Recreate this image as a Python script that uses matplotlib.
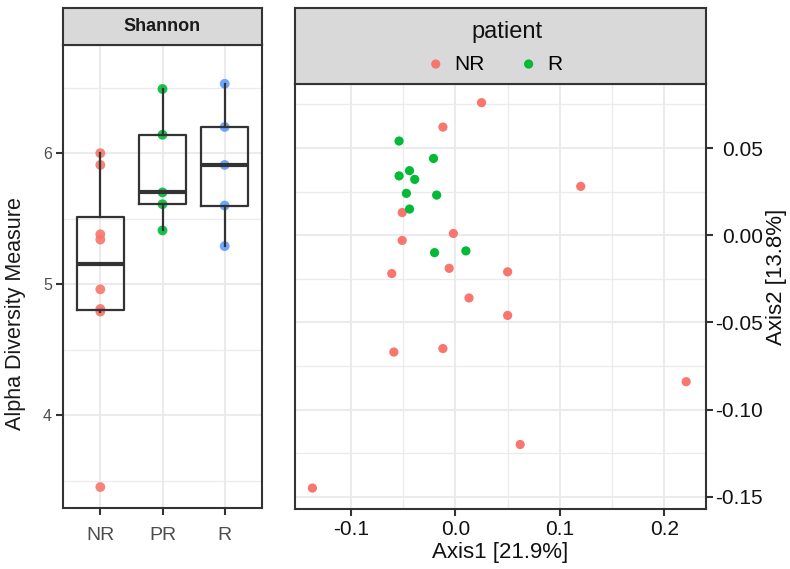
import numpy as np
import matplotlib
matplotlib.use("Agg")
import matplotlib.pyplot as plt

plt.rcParams['font.family'] = ['Liberation Sans', 'DejaVu Sans']
plt.rcParams['axes.unicode_minus'] = False

# alpha diversity (Shannon) per response group
groups = ["NR", "PR", "R"]
shannon_nr = [6.00, 5.91, 5.38, 5.34, 4.96, 4.81, 4.79, 3.45]
shannon_pr = [6.49, 6.14, 5.70, 5.61, 5.41]
shannon_r = [6.53, 6.20, 5.91, 5.60, 5.29]
group_colors = {"NR": "#F8766D", "PR": "#00BA38", "R": "#619CFF"}

# ordination coordinates by patient group
nr_axis1 = [0.025, -0.012, 0.120, -0.051, -0.002, -0.051, -0.061, -0.006,
            0.050, 0.013, 0.050, -0.059, -0.012, 0.221, 0.062, -0.137]
nr_axis2 = [0.076, 0.062, 0.028, 0.013, 0.001, -0.003, -0.022, -0.019,
            -0.021, -0.036, -0.046, -0.067, -0.065, -0.084, -0.120, -0.145]
r_axis1 = [-0.054, -0.021, -0.044, -0.054, -0.039, -0.047, -0.018, -0.044, -0.020, 0.010]
r_axis2 = [0.054, 0.044, 0.037, 0.034, 0.032, 0.024, 0.023, 0.015, -0.010, -0.009]

W, H = 790, 569
fig = plt.figure(figsize=(W / 100, H / 100), dpi=100)

GRID = "#EBEBEB"
DARK = "#333333"


def fbox(x0, y0, x1, y1):
    # pixel box (top-left origin) -> figure fraction rect
    return [x0 / W, 1 - y1 / H, (x1 - x0) / W, (y1 - y0) / H]


def strip(rect):
    s = fig.add_axes(rect)
    s.set_xticks([])
    s.set_yticks([])
    s.set_facecolor("#D9D9D9")
    for sp in s.spines.values():
        sp.set_color(DARK)
        sp.set_linewidth(1.5)
    return s


# ---------------- left panel: Shannon boxplot ----------------
ax1 = fig.add_axes(fbox(63, 45, 262, 508))
data = [shannon_nr, shannon_pr, shannon_r]
pos = np.arange(1, len(groups) + 1)

for p, g, vals in zip(pos, groups, data):
    ax1.scatter(np.full(len(vals), p), vals, s=50, color=group_colors[g],
                alpha=0.9, edgecolors="none", zorder=2)

ax1.boxplot(data, positions=pos, widths=0.75, showfliers=False, showcaps=False,
            patch_artist=False,
            boxprops=dict(color=DARK, linewidth=1.6),
            whiskerprops=dict(color=DARK, linewidth=1.6),
            medianprops=dict(color=DARK, linewidth=3),
            zorder=3)

ax1.set_xlim(0.4, 3.6)
ax1.set_ylim(3.29, 6.826)
ax1.set_xticks(pos)
ax1.set_xticklabels(groups)
ax1.set_yticks([4, 5, 6])
ax1.set_yticks([3.5, 4.5, 5.5, 6.5], minor=True)
ax1.grid(True, which="major", color=GRID, linewidth=1.5, zorder=0)
ax1.grid(True, which="minor", axis="y", color=GRID, linewidth=0.9, zorder=0)
ax1.set_axisbelow(True)
ax1.tick_params(axis="y", which="minor", length=0)
ax1.tick_params(axis="x", length=5, width=1.5, color=DARK, labelsize=14,
                labelcolor="#4D4D4D", pad=9)
ax1.tick_params(axis="y", length=5, width=1.5, color=DARK, labelsize=11.5,
                labelcolor="#4D4D4D", pad=3)
for sp in ax1.spines.values():
    sp.set_color(DARK)
    sp.set_linewidth(1.5)
ax1.set_ylabel("Alpha Diversity Measure", fontsize=15.5, color="#1A1A1A")
ax1.yaxis.set_label_coords(-0.186, 0.42)

s1 = strip(fbox(63, 8, 262, 45))
s1.text(0.5, 0.5, "Shannon", ha="center", va="center", fontsize=13,
        fontweight="bold", color="#1A1A1A", transform=s1.transAxes)

# ---------------- right panel: ordination ----------------
ax2 = fig.add_axes(fbox(295, 84, 706, 509))
ax2.scatter(nr_axis1, nr_axis2, s=44, color=group_colors["NR"], edgecolors="none",
            label="NR", zorder=3)
ax2.scatter(r_axis1, r_axis2, s=44, color=group_colors["PR"], edgecolors="none",
            label="R", zorder=3)
ax2.set_xlim(-0.1537, 0.240)
ax2.set_ylim(-0.157, 0.0867)
ax2.set_xticks([-0.1, 0.0, 0.1, 0.2])
ax2.set_xticklabels(["-0.1", "0.0", "0.1", "0.2"])
ax2.set_xticks([-0.05, 0.05, 0.15], minor=True)
ax2.set_yticks([-0.15, -0.10, -0.05, 0.00, 0.05])
ax2.set_yticklabels(["-0.15", "-0.10", "-0.05", "0.00", "0.05"])
ax2.set_yticks([-0.125, -0.075, -0.025, 0.025, 0.075], minor=True)
ax2.grid(True, which="major", color=GRID, linewidth=1.5, zorder=0)
ax2.grid(True, which="minor", color=GRID, linewidth=0.9, zorder=0)
ax2.set_axisbelow(True)
ax2.yaxis.tick_right()
ax2.yaxis.set_label_position("right")
ax2.tick_params(which="minor", length=0)
ax2.tick_params(axis="x", length=5, width=1.5, color=DARK, labelsize=15,
                labelcolor="#111111", pad=3)
ax2.tick_params(axis="y", length=5, width=1.5, color=DARK, labelsize=15,
                labelcolor="#111111", pad=36)
for lab in ax2.get_yticklabels():
    lab.set_horizontalalignment("right")
for sp in ax2.spines.values():
    sp.set_color(DARK)
    sp.set_linewidth(1.5)
ax2.set_xlabel("Axis1 [21.9%]", fontsize=16, color="#111111", labelpad=2)
ax2.set_ylabel("Axis2 [13.8%]", fontsize=16, color="#111111", rotation=90)
ax2.yaxis.set_label_coords(1.146, 0.546)

# strip with the legend drawn inside it
s2 = strip(fbox(295, 8, 706, 84))
s2.text(0.516, 0.684, "patient", ha="center", va="center", fontsize=17,
        color="#111111", transform=s2.transAxes)
handles, labels = ax2.get_legend_handles_labels()
leg = s2.legend(handles, labels, loc="center", ncol=2,
                frameon=False, bbox_to_anchor=(0.484, 0.263),
                fontsize=15, markerscale=1.0,
                handletextpad=0.4, columnspacing=1.6, borderpad=0.1,
                handlelength=1.0)

fig.savefig("out.png", dpi=100)
